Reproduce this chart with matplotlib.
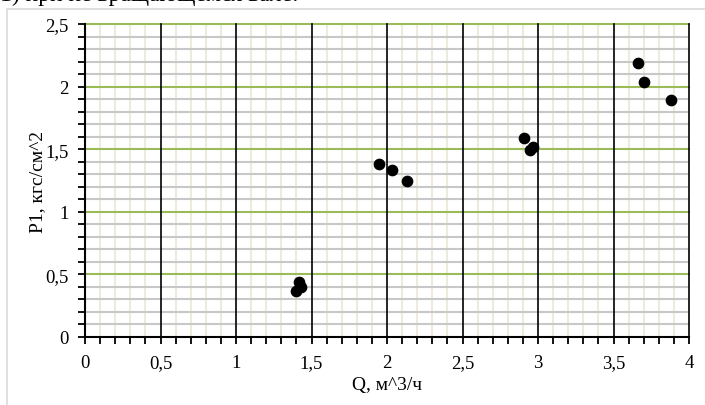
import matplotlib.pyplot as plt
from matplotlib.ticker import MultipleLocator, FuncFormatter
from matplotlib.patches import Rectangle

# Q, м^3/ч  и  P1, кгс/см^2
q_vals = [1.42, 1.43, 1.40, 1.95, 2.03, 2.13, 2.91, 2.97, 2.95, 3.66, 3.70, 3.88]
p_vals = [0.44, 0.40, 0.37, 1.38, 1.33, 1.25, 1.59, 1.52, 1.49, 2.19, 2.04, 1.89]

plt.rcParams['font.family'] = ['Liberation Serif', 'DejaVu Serif']

fig = plt.figure(figsize=(7.05, 4.06), dpi=100)
ax = fig.add_axes([85/705, 1-338/406, (689-85)/705, (338-25)/406])

# рамка области диаграммы
fig.patches.append(Rectangle((7/705, -0.1), 1.0, 1 - 9.5/406 + 0.1, transform=fig.transFigure,
                             fill=False, edgecolor='#D9D9D9', linewidth=1.2))
# обрезанный заголовок сверху
fig.text(0.0, 1.0 + 0.012, '1) при не вращающемся вале:', fontsize=17, va='center', ha='left')

ax.set_xlim(0, 4)
ax.set_ylim(0, 2.5)

ax.xaxis.set_major_locator(MultipleLocator(0.5))
ax.xaxis.set_minor_locator(MultipleLocator(0.1))
ax.yaxis.set_major_locator(MultipleLocator(0.5))
ax.yaxis.set_minor_locator(MultipleLocator(0.1))

fmt = FuncFormatter(lambda v, p: ('%g' % v).replace('.', ','))
ax.xaxis.set_major_formatter(fmt)
ax.yaxis.set_major_formatter(fmt)

ax.grid(which='minor', axis='x', color='#EEEBDD', linewidth=1.5)
ax.grid(which='minor', axis='y', color='#C8C8C8', linewidth=1.5)
ax.set_axisbelow(True)

# основные линии сетки поверх второстепенных
for yv in ax.get_yticks():
    if 0 < yv <= 2.5:
        ax.axhline(yv, color='#9BBB59', linewidth=1.5, zorder=1.2, clip_on=False)
for xv in ax.get_xticks():
    if 0 < xv <= 4:
        ax.axvline(xv, color='black', linewidth=1.2, zorder=1.4, clip_on=False)

for s in ['top', 'right']:
    ax.spines[s].set_visible(False)
for s in ['left', 'bottom']:
    ax.spines[s].set_linewidth(1.5)
    ax.spines[s].set_zorder(2)

ax.tick_params(which='both', direction='out', length=5, width=1.3, color='black')
ax.tick_params(which='major', labelsize=13.5, pad=7)

ax.scatter(q_vals, p_vals, s=55, color='black', zorder=3, clip_on=False)

ax.set_xlabel('Q, м^3/ч', fontsize=14, labelpad=4)
ax.set_ylabel('P1, кгс/см^2', fontsize=14, labelpad=-1)

fig.savefig('out.png', dpi=100)
